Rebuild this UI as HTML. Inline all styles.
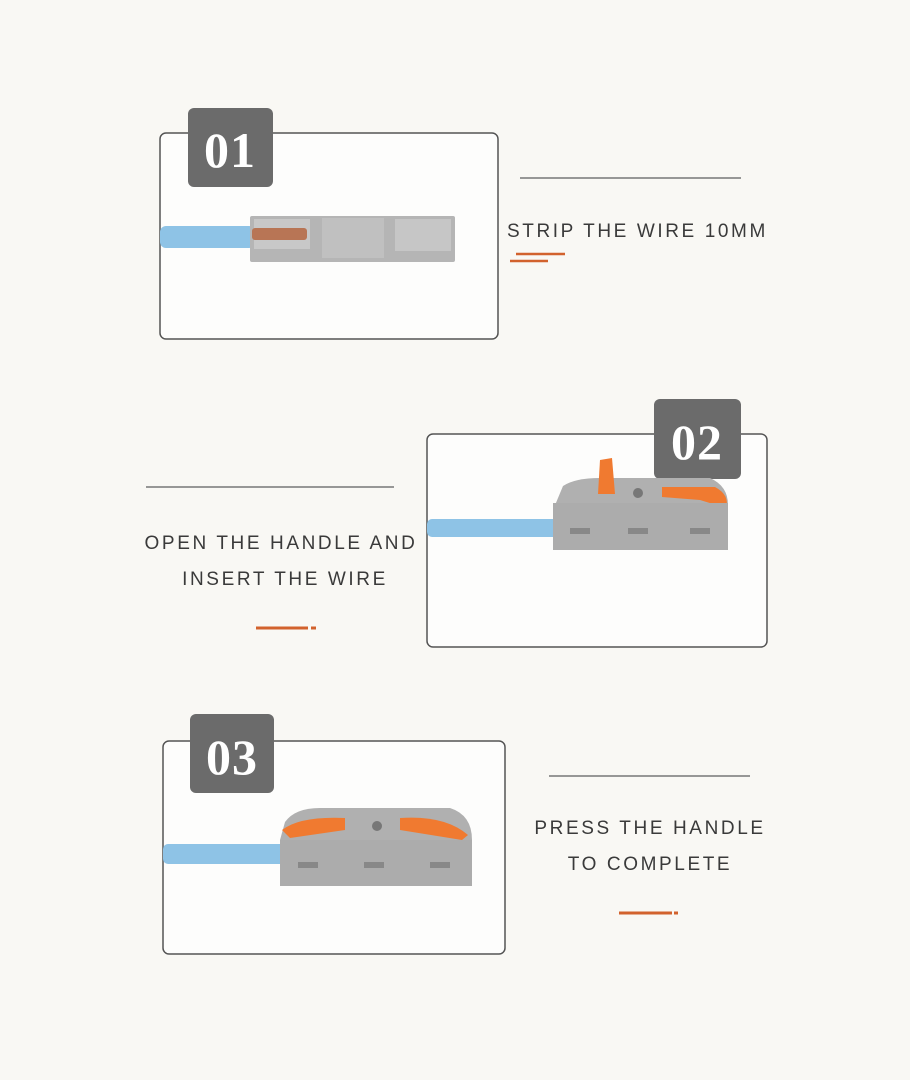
<!DOCTYPE html>
<html><head><style>
html,body{margin:0;padding:0;background:#f9f8f4;}
svg{display:block}
text{font-family:"Liberation Sans",sans-serif;fill:#3a3a3a;letter-spacing:2.6px}
.b{font-family:"Liberation Serif",serif;font-weight:bold;fill:#fff;font-size:50px;letter-spacing:1px}
</style></head><body>
<svg width="910" height="1080" viewBox="0 0 910 1080">
<rect width="910" height="1080" fill="#f9f8f4"/>
<!-- Box 1 -->
<rect x="160" y="133" width="338" height="206" rx="6" fill="#fdfdfc" stroke="#555" stroke-width="1.5"/>
<rect x="188" y="108" width="85" height="79" rx="6" fill="#6b6b6b"/>
<text x="230" y="167" text-anchor="middle" class="b">01</text>
<rect x="160" y="226" width="95" height="22" rx="6" fill="#8ec3e6"/>
<rect x="250" y="216" width="205" height="46" rx="2" fill="#b5b5b5"/>
<rect x="254" y="219" width="56" height="30" fill="#c8c8c8"/>
<rect x="322" y="218" width="62" height="40" fill="#c0c0c0"/>
<rect x="395" y="219" width="56" height="32" fill="#c6c6c6"/>
<rect x="252" y="228" width="55" height="12" rx="3" fill="#b87555"/>
<line x1="520" y1="178" x2="741" y2="178" stroke="#777" stroke-width="1.5"/>
<text x="507" y="237" font-size="19">STRIP THE WIRE 10MM</text>
<line x1="516" y1="254" x2="565" y2="254" stroke="#d2622d" stroke-width="2.5"/>
<line x1="510" y1="261" x2="548" y2="261" stroke="#d2622d" stroke-width="2.5"/>
<!-- Box 2 -->
<rect x="427" y="434" width="340" height="213" rx="6" fill="#fdfdfc" stroke="#555" stroke-width="1.5"/>
<rect x="654" y="399" width="87" height="80" rx="6" fill="#6b6b6b"/>
<text x="697" y="459" text-anchor="middle" class="b">02</text>
<rect x="427" y="519" width="135" height="18" rx="5" fill="#8ec3e6"/>
<path d="M563 486 Q575 478 600 478 L710 478 Q728 486 728 505 L728 548 L553 548 L553 510 Z" fill="#b0b0b0"/>
<path d="M600 460 L612 458 L615 494 L598 494 Z" fill="#f07a30"/>
<path d="M662 487 L715 487 Q730 495 726 508 L700 500 L662 497 Z" fill="#f07a30"/>
<circle cx="638" cy="493" r="5" fill="#777"/>
<rect x="553" y="503" width="175" height="47" fill="#acacac"/>
<rect x="570" y="528" width="20" height="6" fill="#888"/><rect x="628" y="528" width="20" height="6" fill="#888"/><rect x="690" y="528" width="20" height="6" fill="#888"/>
<line x1="146" y1="487" x2="394" y2="487" stroke="#777" stroke-width="1.5"/>
<text x="281" y="549" font-size="19" text-anchor="middle">OPEN THE HANDLE AND</text>
<text x="285" y="585" font-size="19" text-anchor="middle">INSERT THE WIRE</text>
<line x1="256" y1="628" x2="308" y2="628" stroke="#d2622d" stroke-width="3"/>
<line x1="311" y1="628" x2="316" y2="628" stroke="#d2622d" stroke-width="3"/>
<!-- Box 3 -->
<rect x="163" y="741" width="342" height="213" rx="6" fill="#fdfdfc" stroke="#555" stroke-width="1.5"/>
<rect x="190" y="714" width="84" height="79" rx="6" fill="#6b6b6b"/>
<text x="232" y="774" text-anchor="middle" class="b">03</text>
<rect x="163" y="844" width="125" height="20" rx="5" fill="#8ec3e6"/>
<path d="M285 822 Q295 808 320 808 L450 808 Q472 815 472 840 L472 886 L280 886 L280 840 Z" fill="#b0b0b0"/>
<path d="M282 830 Q300 816 345 818 L345 830 L290 838 Z" fill="#f07a30"/>
<path d="M400 818 Q445 815 468 835 L462 840 L400 830 Z" fill="#f07a30"/>
<circle cx="377" cy="826" r="5" fill="#777"/>
<rect x="280" y="840" width="192" height="46" fill="#acacac"/>
<rect x="298" y="862" width="20" height="6" fill="#888"/><rect x="364" y="862" width="20" height="6" fill="#888"/><rect x="430" y="862" width="20" height="6" fill="#888"/>
<line x1="549" y1="776" x2="750" y2="776" stroke="#777" stroke-width="1.5"/>
<text x="650" y="834" font-size="19" text-anchor="middle">PRESS THE HANDLE</text>
<text x="650" y="870" font-size="19" text-anchor="middle">TO COMPLETE</text>
<line x1="619" y1="913" x2="672" y2="913" stroke="#d2622d" stroke-width="3"/>
<line x1="674" y1="913" x2="678" y2="913" stroke="#d2622d" stroke-width="3"/>
</svg>
</body></html>
